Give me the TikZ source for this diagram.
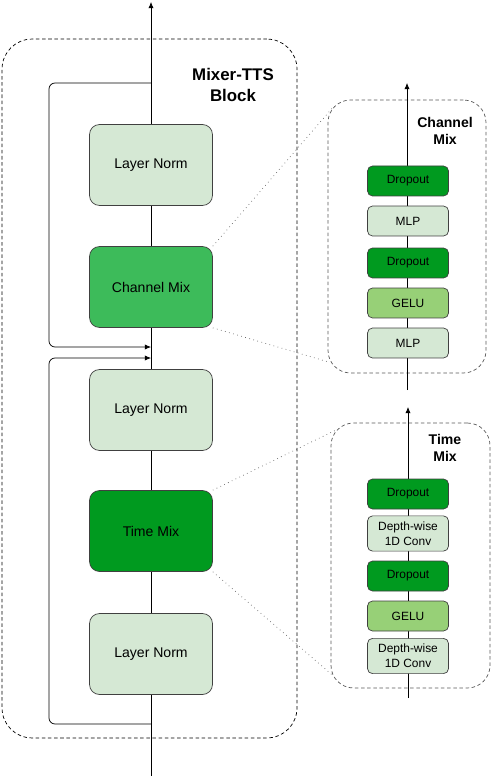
\documentclass[tikz,border=0pt]{standalone}
\usepackage{fontspec}
\setmainfont{Liberation Sans}
\usepackage{tikz}
\usetikzlibrary{positioning,arrows.meta}

\definecolor{normfill}{HTML}{D5E8D4}
\definecolor{chanfill}{HTML}{3DBB5A}
\definecolor{timefill}{HTML}{009A1F}
\definecolor{gelufill}{HTML}{97D077}

\begin{document}
\begin{tikzpicture}[x=0.02cm, y=-0.02cm, >={Latex[length=3.5pt,width=3pt]},
  every node/.style={font=\fontsize{8}{9.6}\selectfont},
  bigbox/.style={draw=black!75, rounded corners=0.2cm, minimum width=2.46cm, minimum height=1.62cm},
  smallbox/.style={draw=black!75, rounded corners=0.1cm, minimum width=1.62cm, minimum height=0.6cm,
    align=center, font=\fontsize{6.8}{8.4}\selectfont},
  panel/.style={draw=black!65, dashed, dash pattern=on 2pt off 1.5pt, rounded corners=0.45cm},
  zoomline/.style={draw=black!60, dotted, thin},
  heading/.style={font=\bfseries\fontsize{8}{9.6}\selectfont, align=center}]
  \useasboundingbox (0,0) rectangle (494,776);

  % main column
  \coordinate (in) at (151,776);
  \coordinate (out) at (151,2);
  \draw[->] (in) -- (out);
  \node[draw, dashed, dash pattern=on 2pt off 1.5pt, rounded corners=0.6cm, minimum width=5.9cm, minimum height=13.98cm] (block) at (149.5,388.5) {};
  \node[font=\bfseries\fontsize{9.6}{11.5}\selectfont, align=center] (blocktitle) at (233,85) {Mixer-TTS\\Block};
  \node[bigbox, fill=normfill] (normA) at (151,165) {Layer Norm};
  \node[bigbox, fill=chanfill] (chan) at (151,287) {Channel Mix};
  \node[bigbox, fill=normfill] (normB) at (151,410) {Layer Norm};
  \node[bigbox, fill=timefill] (time) at (151,531) {Time Mix};
  \node[bigbox, fill=normfill] (normC) at (151,654) {Layer Norm};

  % residual paths
  \coordinate (skipA) at (151,724);
  \coordinate (joinA) at (151,358);
  \coordinate (skipB) at (151,83);
  \coordinate (joinB) at (151,347);
  \draw[->, rounded corners=0.12cm] (skipA) -- (49,724) -- (49,358) -- (joinA);
  \draw[->, rounded corners=0.12cm] (skipB) -- (49,83) -- (49,347) -- (joinB);

  % channel mix detail
  \node[panel, minimum width=3.16cm, minimum height=5.46cm] (chanpanel) at (407,236.5) {};
  \coordinate (chanin) at (407,390);
  \coordinate (chanout) at (407,83);
  \draw[->] (chanin) -- (chanout);
  \node[heading] (chantitle) at (445,131) {Channel\\Mix};
  \node[smallbox, fill=timefill] (dropA) at (408,181) {Dropout};
  \node[smallbox, fill=normfill] (mlpA) at (408,221) {MLP};
  \node[smallbox, fill=timefill] (dropB) at (408,263) {Dropout};
  \node[smallbox, fill=gelufill] (geluA) at (408,303) {GELU};
  \node[smallbox, fill=normfill] (mlpB) at (408,343) {MLP};

  % time mix detail
  \node[panel, minimum width=3.18cm, minimum height=5.3cm] (timepanel) at (410.5,555.5) {};
  \coordinate (timein) at (408,698);
  \coordinate (timeout) at (408,407);
  \draw[->] (timein) -- (timeout);
  \node[heading] (timetitle) at (445,448) {Time\\Mix};
  \node[smallbox, fill=timefill] (dropC) at (408,494) {Dropout};
  \node[smallbox, fill=normfill] (convA) at (408,533.5) {Depth-wise\\1D Conv};
  \node[smallbox, fill=timefill] (dropD) at (408,576) {Dropout};
  \node[smallbox, fill=gelufill] (geluB) at (408,616) {GELU};
  \node[smallbox, fill=normfill] (convB) at (408,656) {Depth-wise\\1D Conv};

  % zoom lines
  \draw[zoomline] (chan.north east) -- ([shift={(5,8)}]chanpanel.north west);
  \draw[zoomline] (chan.south east) -- ([shift={(2,-11)}]chanpanel.south west);
  \draw[zoomline] (time.north east) -- ([shift={(4,8)}]timepanel.north west);
  \draw[zoomline] (time.south east) -- ([shift={(2,-13)}]timepanel.south west);
\end{tikzpicture}
\end{document}
